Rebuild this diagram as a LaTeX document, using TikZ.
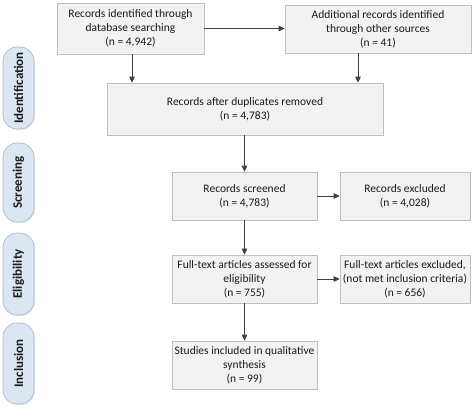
\documentclass[tikz,border=0pt]{standalone}
\usepackage{fontspec}
\setmainfont{Carlito}
\usetikzlibrary{arrows.meta,shadows}
\definecolor{boxfill}{HTML}{F2F2F2}
\definecolor{boxline}{HTML}{BFBFBF}
\definecolor{pillfill}{HTML}{DCE6F2}
\definecolor{pillline}{HTML}{A6B6C8}
\definecolor{arrcol}{HTML}{404040}
\definecolor{txt}{HTML}{1A1A1A}
\begin{document}
\begin{tikzpicture}[x=1pt,y=-1pt,
  stagebox/.style={draw=boxline, fill=boxfill, line width=0.6pt, align=center,
    text=txt, font=\fontsize{11.5pt}{14pt}\selectfont, inner sep=0pt,
    drop shadow={opacity=0.25, shadow xshift=1.2pt, shadow yshift=-1.2pt}},
  pill/.style={draw=pillline, fill=pillfill, line width=0.6pt, rounded corners=14pt,
    minimum width=82pt, minimum height=31pt, rotate=90, text=txt,
    font=\fontsize{13pt}{14pt}\selectfont\bfseries, inner sep=0pt,
    drop shadow={opacity=0.2, shadow xshift=1pt, shadow yshift=-1pt}},
  arr/.style={draw=arrcol, line width=0.9pt, -{Triangle[length=6pt,width=5.5pt]}}]
\useasboundingbox (0,0) rectangle (474,408);
% stage labels
\node[pill] (pid) at (18.5,88) {Identification};
\node[pill, minimum width=79pt] (psc) at (18.5,182.5) {Screening};
\node[pill] (pel) at (18.5,274) {Eligibility};
\node[pill, minimum width=81pt] (pin) at (18.5,363.5) {Inclusion};
% boxes
\node[stagebox, minimum width=147pt, minimum height=51pt] (b1) at (130.5,28.5)
  {Records identified through\\database searching\\(n = 4,942)};
\node[stagebox, minimum width=186pt, minimum height=48pt] (b2) at (378,29)
  {Additional records identified\\through other sources\\(n = 41)};
\node[stagebox, minimum width=276pt, minimum height=52pt] (b3) at (245,109)
  {Records after duplicates removed\\(n = 4,783)};
\node[stagebox, minimum width=145pt, minimum height=48pt] (b4) at (244.5,196)
  {Records screened\\(n = 4,783)};
\node[stagebox, minimum width=130pt, minimum height=48pt] (b5) at (405,196)
  {Records excluded\\(n = 4,028)};
\node[stagebox, minimum width=145pt, minimum height=48pt] (b6) at (244.5,279)
  {Full-text articles assessed for\\eligibility\\(n = 755)};
\node[stagebox, minimum width=130pt, minimum height=48pt] (b7) at (405,279)
  {Full-text articles excluded,\\(not met inclusion criteria)\\(n = 656)};
\node[stagebox, minimum width=145pt, minimum height=48pt] (b8) at (244.5,365)
  {Studies included in qualitative\\synthesis\\(n = 99)};
% arrows
\draw[arr] (b1.east) -- (b2.west |- b1.east);
\draw[arr] ([xshift=1.5pt]b1.south) -- ([xshift=1.5pt]b1.south |- b3.north);
\draw[arr] ([xshift=-20pt]b2.south) -- ([xshift=-20pt]b2.south |- b3.north);
\draw[arr] (b3.south -| b4.north) -- (b4.north);
\draw[arr] (b4.east) -- (b5.west);
\draw[arr] (b4.south) -- (b6.north);
\draw[arr] (b6.east) -- (b7.west);
\draw[arr] (b6.south) -- (b8.north);
\end{tikzpicture}
\end{document}
